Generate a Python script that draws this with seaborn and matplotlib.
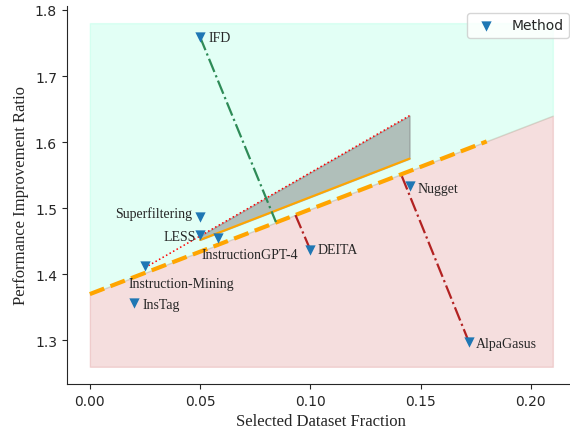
import numpy as np
import pandas as pd
import matplotlib
matplotlib.use("Agg")
import matplotlib.pyplot as plt
import seaborn as sns

# data selection methods: fraction of data kept vs. improvement ratio
methods = ["IFD", "Superfiltering", "LESS", "InstructionGPT-4", "Instruction-Mining",
           "InsTag", "DEITA", "Nugget", "AlpaGasus"]
fraction = [0.05, 0.05, 0.05, 0.058, 0.025, 0.02, 0.10, 0.145, 0.172]
ratio = [1.759, 1.487, 1.460, 1.455, 1.413, 1.356, 1.437, 1.533, 1.297]

# frontier line splitting the two regions
frontier_x = [0.0, 0.21]
frontier_y = [1.37, 1.64]
region_low = 1.26
region_high = 1.78
dashed_x = [0.0, 0.18]
dashed_y = [1.37, 1.601]

# gain wedge: red dotted upper edge, orange lower edge
upper_x = [0.025, 0.145]
upper_y = [1.41, 1.64]
wedge_x = [0.05, 0.145]
wedge_top = [1.458, 1.64]
wedge_bottom = [1.452, 1.575]

# residual segments from a method to the frontier
res_methods = ["IFD", "DEITA", "AlpaGasus"]
res_end_x = [0.0844, 0.0932, 0.1412]
res_end_y = [1.479, 1.49, 1.551]

df = pd.DataFrame({"method": methods, "fraction": fraction, "ratio": ratio})

sns.set_style("ticks")
serif = ["Liberation Serif", "DejaVu Serif"]

fig = plt.figure(figsize=(5.7, 4.35), dpi=100)
ax = fig.add_axes([0.117, 0.115, 0.8935, 0.869])

# shaded regions above / below the frontier
ax.fill_between(frontier_x, frontier_y, region_high, color="aquamarine", alpha=0.22, zorder=0)
ax.fill_between(frontier_x, region_low, frontier_y, color="indianred", alpha=0.2, zorder=0)

ax.fill_between(wedge_x, wedge_bottom, wedge_top, color="gray", alpha=0.5, zorder=1)
ax.plot(upper_x, upper_y, color="red", linestyle=":", linewidth=1.1, zorder=2)
ax.plot(wedge_x, wedge_bottom, color="orange", linewidth=1.5, zorder=2)
ax.plot(dashed_x, dashed_y, color="orange", linestyle="--", linewidth=3, zorder=2)

# residuals: green above the frontier, red below
slope = (frontier_y[1] - frontier_y[0]) / (frontier_x[1] - frontier_x[0])
for m, ex, ey in zip(res_methods, res_end_x, res_end_y):
    row = df[df["method"] == m].iloc[0]
    above = row["ratio"] > frontier_y[0] + slope * row["fraction"]
    ax.plot([row["fraction"], ex], [row["ratio"], ey],
            color="seagreen" if above else "firebrick",
            linestyle="-.", linewidth=1.6, zorder=3)

sns.scatterplot(data=df, x="fraction", y="ratio", marker="v", s=55, color="tab:blue",
                linewidth=0, label="Method", ax=ax, zorder=5)

# label placement (offset in points, alignment)
offsets = {
    "IFD": (6, 0, "left"),
    "Superfiltering": (-6, 3, "right"),
    "LESS": (-3, -1, "right"),
    "InstructionGPT-4": (-12, -12, "left"),
    "Instruction-Mining": (-11.5, -13, "left"),
    "InsTag": (6, -1, "left"),
    "DEITA": (5, 0, "left"),
    "Nugget": (5.5, -1.5, "left"),
    "AlpaGasus": (5, -1, "left"),
}
for _, row in df.iterrows():
    dx, dy, ha = offsets[row["method"]]
    ax.annotate(row["method"], (row["fraction"], row["ratio"]), xytext=(dx, dy),
                textcoords="offset points", ha=ha, va="center", fontsize=10,
                family=serif, zorder=6)

ax.set_yticks([1.3, 1.4, 1.5, 1.6, 1.7, 1.8])
ax.set_xticks([0.0, 0.05, 0.10, 0.15, 0.20])
ax.set_xlabel("Selected Dataset Fraction", fontsize=12, family=serif)
ax.set_ylabel("Performance Improvement Ratio", fontsize=12, family=serif)
ax.legend(loc="upper right")
sns.despine(ax=ax)

fig.savefig("out.png", dpi=100)
